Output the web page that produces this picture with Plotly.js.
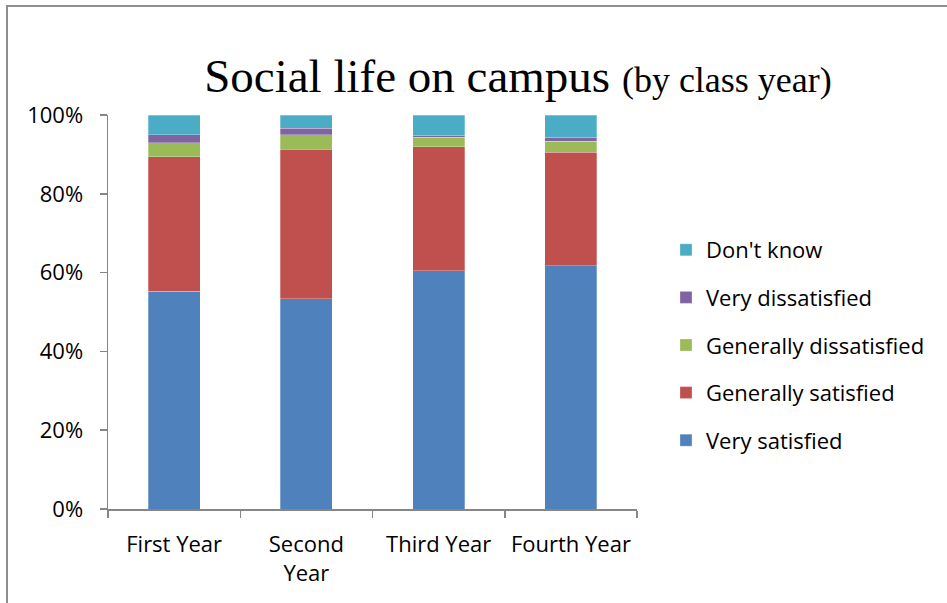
<!DOCTYPE html>
<html>
<head>
<meta charset="utf-8">
<script src="https://cdn.plot.ly/plotly-3.0.1.min.js"></script>
<style>
html,body{margin:0;padding:0;background:#fff;}
#wrap{position:relative;width:947px;height:603px;overflow:hidden;}
#chart{position:absolute;left:0;top:0;width:947px;height:603px;}
#frame{position:absolute;left:6px;top:5px;width:1000px;height:700px;border-top:2px solid #8f8f8f;border-left:2px solid #8f8f8f;pointer-events:none;}
</style>
</head>
<body>
<div id="wrap"><div id="chart"></div><div id="frame"></div></div>
<script>
const categories = ["First Year", "Second<br>Year", "Third Year", "Fourth Year"];
const verySatisfied = [55.3, 53.4, 60.5, 61.7];
const generallySatisfied = [34.1, 37.9, 31.5, 28.9];
const generallyDissatisfied = [3.6, 3.7, 2.4, 2.7];
const veryDissatisfied = [2.0, 1.7, 0.4, 1.1];
const dontKnow = [5.0, 3.3, 5.2, 5.6];
const yTicks = [0, 20, 40, 60, 80, 100];

const seriesNames = ["Very satisfied", "Generally satisfied", "Generally dissatisfied", "Very dissatisfied", "Don't know"];
const seriesValues = [verySatisfied, generallySatisfied, generallyDissatisfied, veryDissatisfied, dontKnow];
const seriesColors = ["#4F81BD", "#C0504D", "#9BBB59", "#8064A2", "#4BACC6"];

const traces = seriesNames.map((n, i) => ({
  type: "bar",
  name: n,
  x: categories,
  y: seriesValues[i],
  legendgroup: "g" + i,
  legendrank: 1000 - i,
  marker: {color: seriesColors[i], line: {color: "rgba(255,255,255,0.35)", width: 0.8}},
  hoverinfo: "none"
}));

const font = "'Open Sans', sans-serif";
const layout = {
  width: 947, height: 603,
  margin: {l: 108, r: 310, t: 115, b: 94},
  paper_bgcolor: "#fff", plot_bgcolor: "#fff",
  barmode: "stack",
  bargap: 0.606,
  showlegend: true,
  title: {
    text: "Social life on campus <span style='font-size:36px'>(by class year)</span>",
    font: {family: "'Liberation Serif', 'Times New Roman', serif", size: 47, color: "#000"},
    x: 518/947, xanchor: "center", xref: "container",
    y: 1 - 92/603, yanchor: "bottom", yref: "container"
  },
  xaxis: {
    type: "category",
    showline: true, linecolor: "#868686", linewidth: 1.5,
    ticks: "outside", tickson: "boundaries", ticklen: 7, tickcolor: "#868686", tickwidth: 1.5,
    tickfont: {family: font, size: 22, color: "#000"},
    ticklabelstandoff: 15,
    showgrid: false, zeroline: false, fixedrange: true
  },
  yaxis: {
    range: [0, 100],
    tickvals: yTicks, ticktext: yTicks.map(v => v + "%"),
    showline: true, linecolor: "#868686", linewidth: 1.5,
    ticks: "outside", ticklen: 7, tickcolor: "#868686", tickwidth: 1.5,
    tickfont: {family: font, size: 22, color: "#000"},
    ticklabelstandoff: 12,
    showgrid: false, zeroline: false, fixedrange: true
  },
  legend: {
    x: (666-108)/529, xanchor: "left",
    y: (509-229)/394, yanchor: "top",
    traceorder: "grouped",
    tracegroupgap: 16,
    font: {family: font, size: 22, color: "#000"},
    bgcolor: "rgba(0,0,0,0)"
  }
};

Plotly.newPlot("chart", traces, layout, {staticPlot: true, displayModeBar: false});
</script>
</body>
</html>
